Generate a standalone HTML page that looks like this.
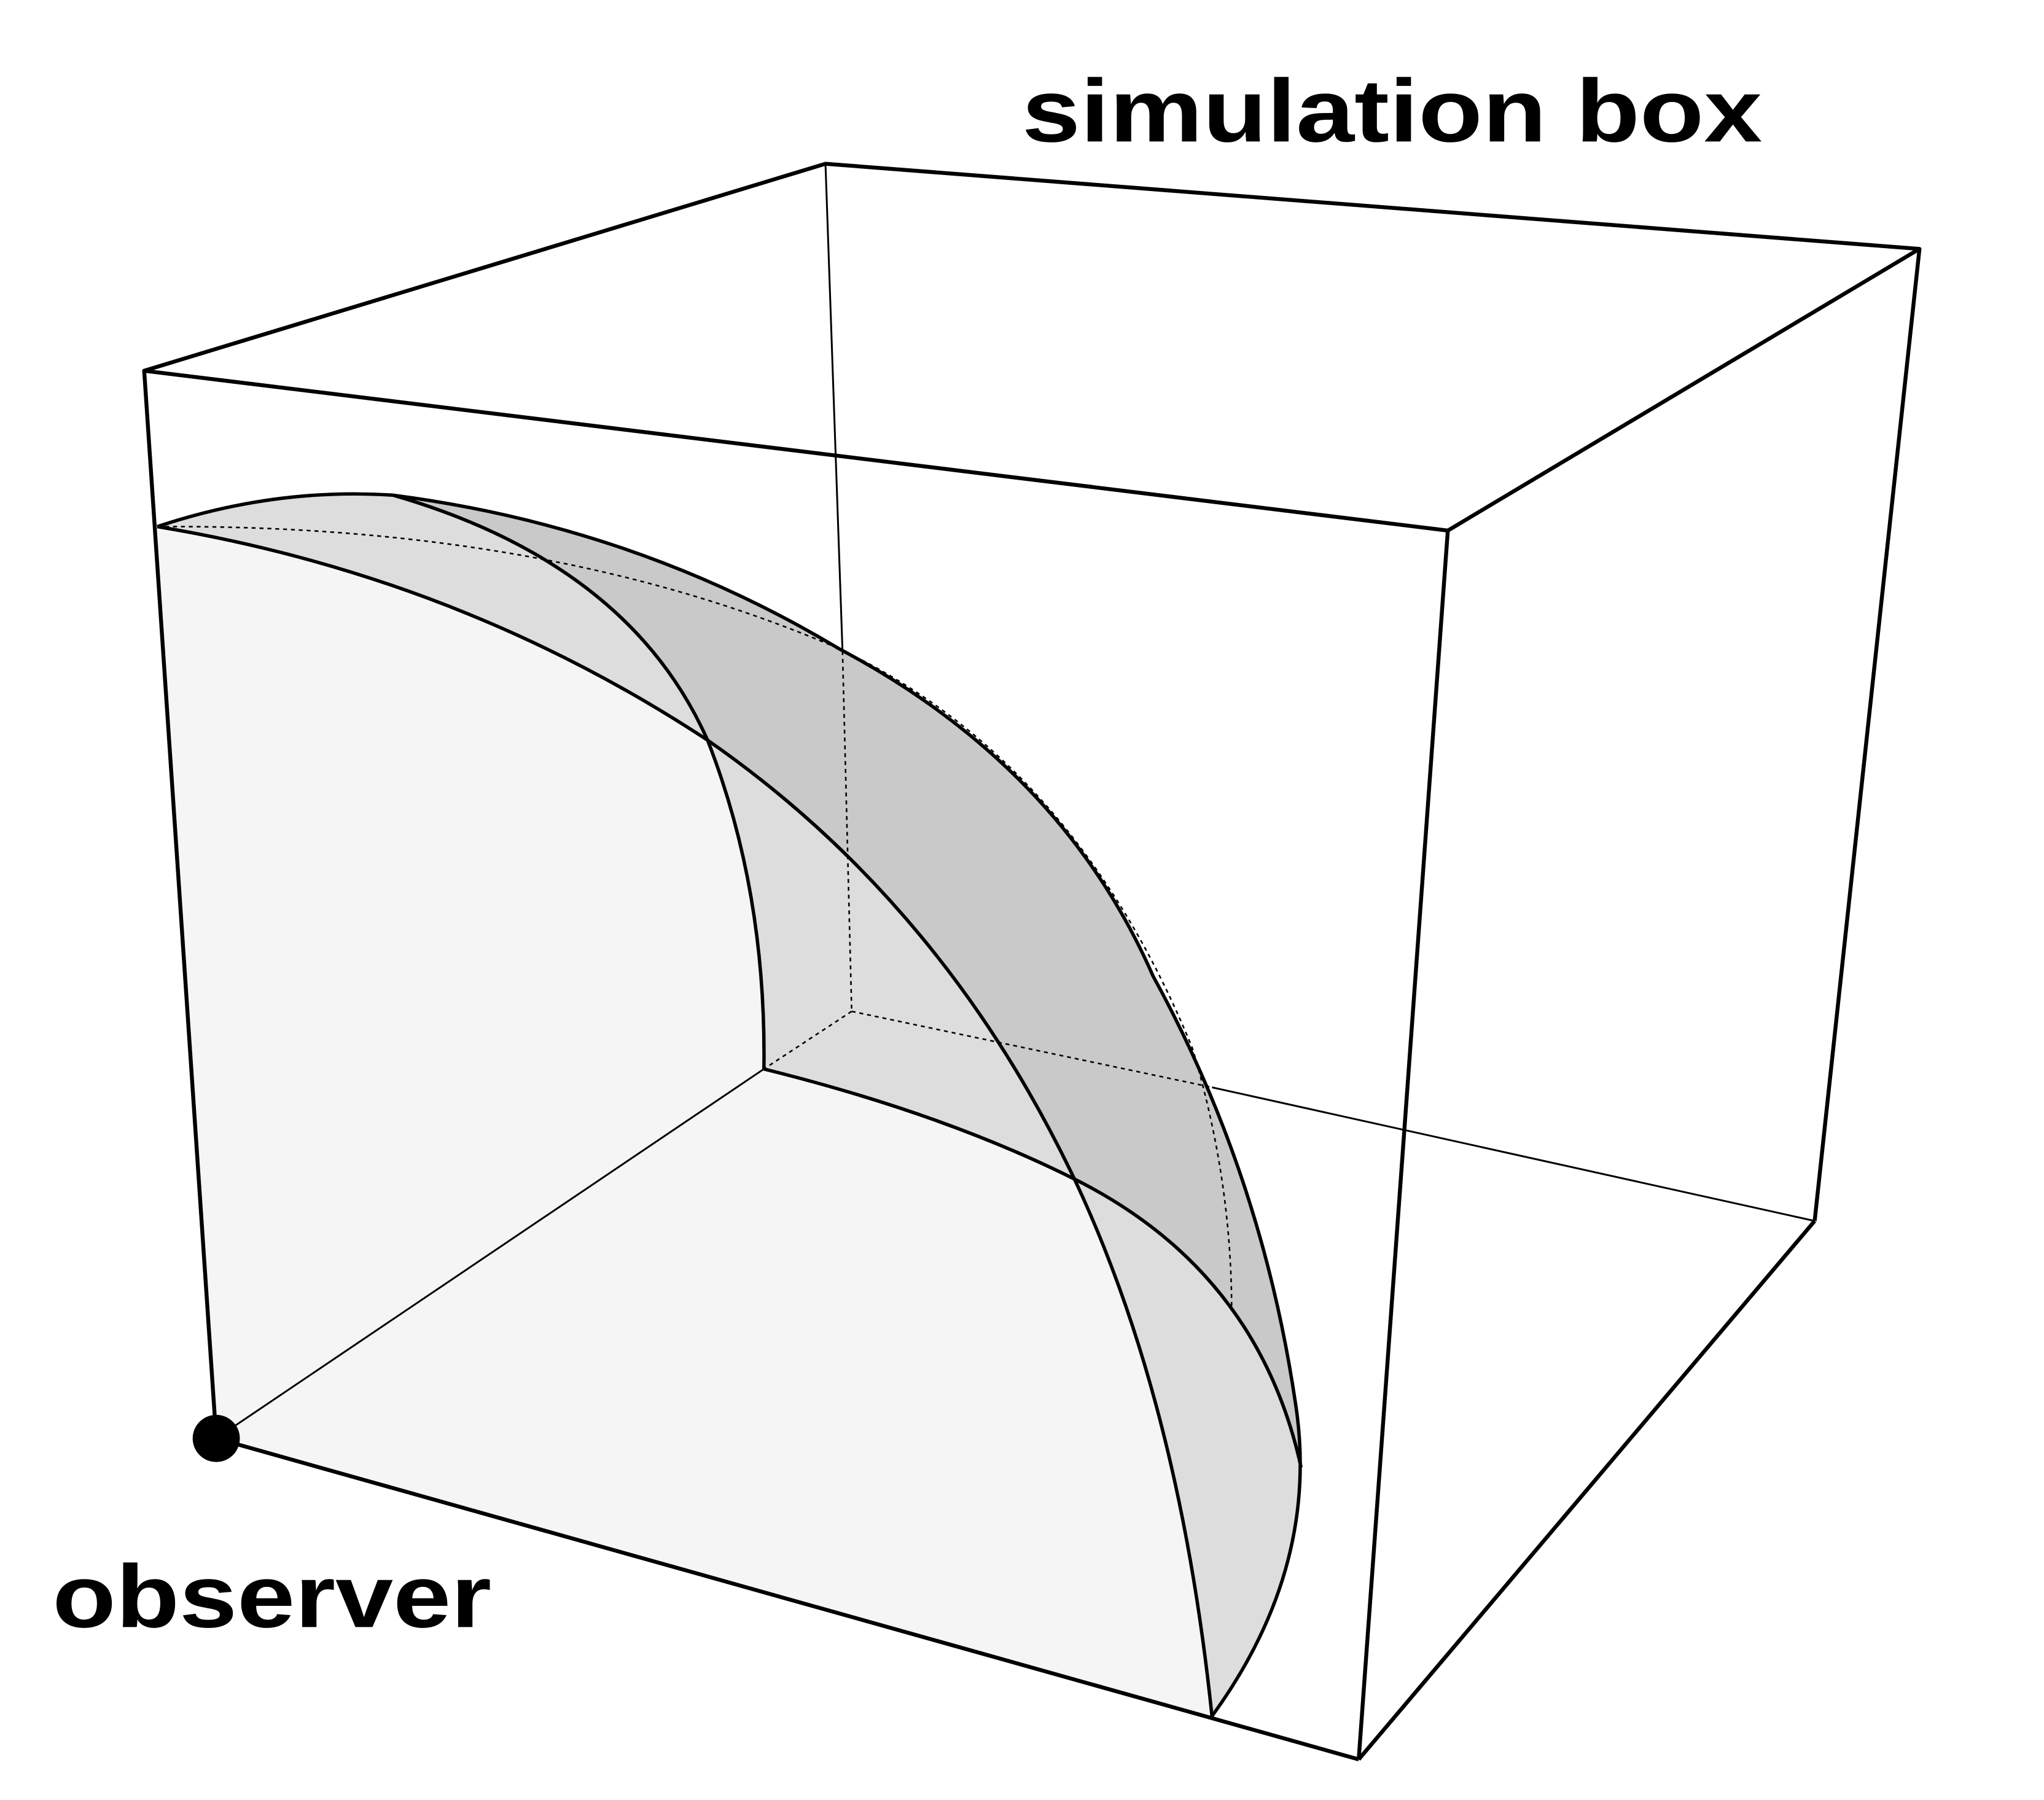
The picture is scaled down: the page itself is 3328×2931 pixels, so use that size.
<!DOCTYPE html>
<html><head><meta charset="utf-8"><style>html,body{margin:0;padding:0;background:#fff}svg{display:block}</style></head>
<body>
<svg width="3328" height="2931" viewBox="0 0 1560 1374" xmlns="http://www.w3.org/2000/svg">
<rect width="1560" height="1374" fill="#fff"/>
<path d="M165,1098 L120,402 Q350,440 540,565 Q720,690 820,900 Q900,1070 925,1310 Z" fill="#f5f5f5"/>
<path d="M120,402 Q210,372 300,378 Q485,402 640,495 Q810,585 880,745 Q965,900 990,1080 Q1005,1200 925,1310 Q900,1070 820,900 Q720,690 540,565 Q350,440 120,402 Z" fill="#dddddd"/>
<path d="M540,565 Q585,680 583,816 Q720,850 820,900 Q720,690 540,565 Z" fill="#dddddd"/>
<path d="M300,378 Q485,402 640,495 Q810,585 880,745 Q965,900 990,1080 L993,1120 Q960,970 820,900 Q720,690 540,565 Q480,430 300,378 Z" fill="#c9c9c9"/>

<g stroke="#000" stroke-width="1.4" fill="none">
<line x1="630" y1="125" x2="643" y2="497"/>
<line x1="165" y1="1098" x2="583" y2="816"/>
<line x1="925" y1="830" x2="1385" y2="932"/>
</g>
<g stroke="#000" stroke-width="1.2" fill="none" stroke-dasharray="3,3">
<line x1="643" y1="497" x2="650" y2="772"/>
<line x1="650" y1="772" x2="583" y2="816"/>
<line x1="650" y1="772" x2="925" y2="830"/>
<path d="M120,402 Q420,400 640,495 Q820,580 910,800 Q940,900 940,1000"/>
</g>
<g stroke="#000" stroke-width="3" fill="none" stroke-linejoin="round">
<path d="M110,283 L630,125 L1465,190 L1105,405 Z"/>
<line x1="110" y1="283" x2="165" y2="1098"/>
<line x1="165" y1="1098" x2="1037" y2="1343"/>
<line x1="1037" y1="1343" x2="1385" y2="932"/>
<line x1="1385" y1="932" x2="1465" y2="190"/>
<line x1="1105" y1="405" x2="1037" y2="1343"/>
</g>
<g stroke="#000" stroke-width="2.6" fill="none">
<path d="M120,402 Q350,440 540,565 Q720,690 820,900 Q900,1070 925,1310"/>
<path d="M120,402 Q210,372 300,378 Q485,402 640,495 Q810,585 880,745 Q965,900 990,1080 Q1005,1200 925,1310"/>
<path d="M300,378 Q480,430 540,565 Q585,680 583,816"/>
<path d="M583,816 Q720,850 820,900 Q960,970 993,1120"/>
</g>
<circle cx="165" cy="1098" r="18" fill="#000"/>
<text x="780" y="108" font-family="Liberation Sans, sans-serif" font-weight="bold" font-size="68" textLength="565" lengthAdjust="spacingAndGlyphs">simulation box</text>
<text x="40" y="1242" font-family="Liberation Sans, sans-serif" font-weight="bold" font-size="68" textLength="335" lengthAdjust="spacingAndGlyphs">observer</text>
</svg>
</body></html>
